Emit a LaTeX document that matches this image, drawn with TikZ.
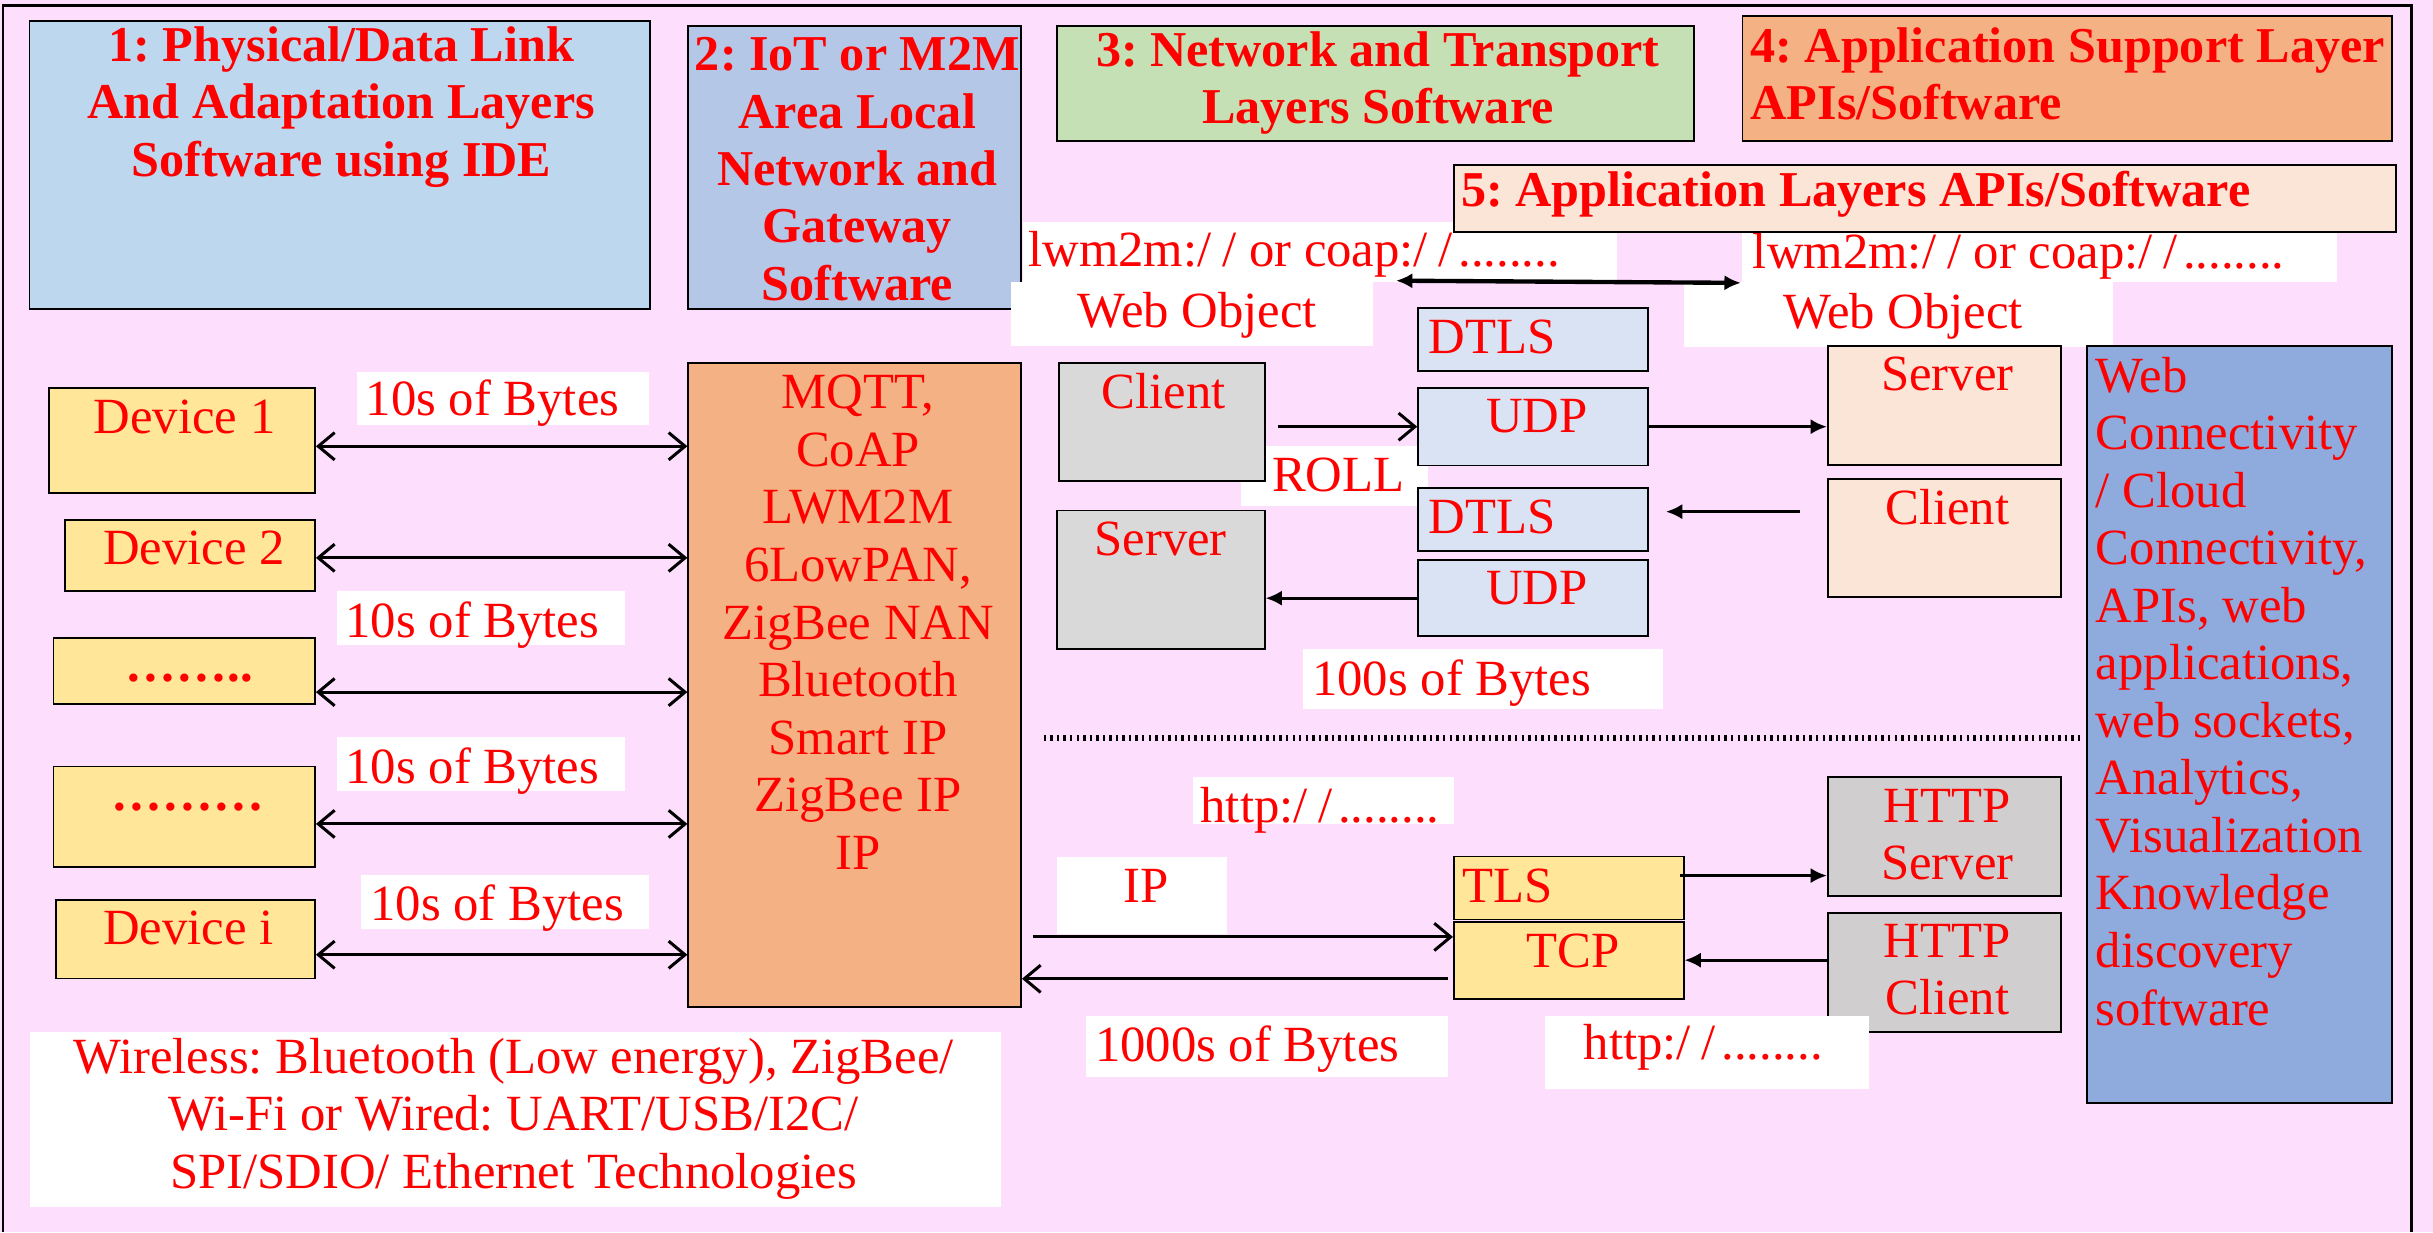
\documentclass[tikz,border=0pt]{standalone}
\usepackage{fontspec}
\setmainfont{Liberation Serif}
\frenchspacing
\usetikzlibrary{arrows.meta}
\definecolor{bgpink}{RGB}{253,222,253}
\definecolor{lblue}{RGB}{189,215,238}
\definecolor{mblue}{RGB}{180,199,231}
\definecolor{lgreen}{RGB}{197,224,180}
\definecolor{lorange}{RGB}{244,177,131}
\definecolor{lpeach}{RGB}{251,229,214}
\definecolor{lyellow}{RGB}{255,230,153}
\definecolor{pblue}{RGB}{218,227,243}
\definecolor{lgray}{RGB}{217,217,217}
\definecolor{mgray}{RGB}{208,206,206}
\definecolor{dblue}{RGB}{143,170,220}
\begin{document}
\begin{tikzpicture}[x=1cm,y=-1cm,
    box/.style={draw,line width=0.35pt,inner sep=0pt},
    blank/.style={fill=white,inner sep=0pt},
    txt/.style={text=red,inner sep=0pt,font=\fontsize{9.3}{10.55}\selectfont},
    hdr/.style={text=red,inner sep=0pt,font=\fontsize{9.2}{10.5}\selectfont\bfseries},
    conn/.style={line width=0.55pt},
    solidtip/.style={>={Latex[length=3pt,width=2.8pt]}},
    >={Straight Barb[length=3pt,width=5pt]}]
    \fill[bgpink] (0,0) rectangle (15.68,7.94);
    \useasboundingbox (0,0) rectangle (15.68,7.94);
    \draw[line width=0.5pt] (0.02,7.94) -- (0.02,0.035) -- (15.54,0.035) -- (15.54,7.94);% outer frame
    % layer headers
    \node[box,fill=lblue,minimum width=4cm,minimum height=1.857cm] (hdra) at (2.19,1.062) {};
    \node[hdr,align=center] (hdratxt) at (2.20,0.69) {1: Physical/Data Link\\And Adaptation Layers\\Software using IDE};
    \node[box,fill=mblue,minimum width=2.144cm,minimum height=1.825cm] (hdrb) at (5.508,1.0775) {};
    \node[hdr,align=center] (hdrbtxt) at (5.525,1.09) {2: IoT or M2M\\Area Local\\Network and\\Gateway\\Software};
    \node[box,fill=lgreen,minimum width=4.11cm,minimum height=0.739cm] (hdrc) at (8.865,0.5375) {};
    \node[hdr,align=center] (hdrctxt) at (8.88,0.535) {3: Network and Transport\\Layers Software};
    \node[box,fill=lorange,minimum width=4.186cm,minimum height=0.804cm] (hdrd) at (13.323,0.505) {};
    \node[hdr,align=left,anchor=west] (hdrdtxt) at (11.275,0.475) {4: Application Support Layer\\APIs/Software};
    % web object labels
    \node[blank,minimum width=3.83cm,minimum height=0.386cm] (lwabg) at (8.505,1.623) {};
    \node[txt,anchor=west] (lwatxt) at (6.62,1.64) {lwm2m:/\kern2pt/ or coap:/\kern2pt/\kern1pt........};
    \node[blank,minimum width=2.335cm,minimum height=0.414cm] (woabg) at (7.6825,2.023) {};
    \node[txt] (woatxt) at (7.716,2.03) {Web Object};
    \node[blank,minimum width=3.834cm,minimum height=0.319cm] (lwbbg) at (13.143,1.6565) {};
    \node[txt,anchor=west] (lwbtxt) at (11.29,1.65) {lwm2m:/\kern2pt/ or coap:/\kern2pt/\kern1pt........};
    \node[blank,minimum width=2.77cm,minimum height=0.419cm] (wobbg) at (12.235,2.0255) {};
    \node[txt] (wobtxt) at (12.265,2.04) {Web Object};
    \draw[conn,line width=0.8pt,solidtip,<->] ([xshift=1.4mm]woabg.north east) -- (lwbbg.south west);
    \node[box,fill=lpeach,minimum width=6.07cm,minimum height=0.434cm] (hdre) at (12.405,1.28) {};
    \node[hdr,anchor=west] (hdretxt) at (9.41,1.255) {5: Application Layers APIs/Software};
    % devices
    \node[box,fill=lyellow,minimum width=1.715cm,minimum height=0.68cm] (dev1) at (1.1725,2.84) {};
    \node[txt] (dev1txt) at (1.19,2.69) {Device 1};
    \node[box,fill=lyellow,minimum width=1.61cm,minimum height=0.46cm] (dev2) at (1.225,3.58) {};
    \node[txt] (dev2txt) at (1.25,3.53) {Device 2};
    \node[box,fill=lyellow,minimum width=1.685cm,minimum height=0.425cm] (devc) at (1.1875,4.3225) {};
    \node[txt,font=\fontsize{9.3}{10.55}\selectfont\bfseries] (devctxt) at (1.22,4.37) {……..};
    \node[box,fill=lyellow,minimum width=1.685cm,minimum height=0.65cm] (devd) at (1.1875,5.265) {};
    \node[txt,font=\fontsize{9.3}{10.55}\selectfont\bfseries] (devdtxt) at (1.21,5.20) {………};
    \node[box,fill=lyellow,minimum width=1.67cm,minimum height=0.506cm] (devi) at (1.195,6.053) {};
    \node[txt] (devitxt) at (1.215,5.98) {Device i};
    % gateway
    \node[box,fill=lorange,minimum width=2.144cm,minimum height=4.15cm] (mqtt) at (5.508,4.415) {};
    \node[txt,align=center] (mqtttxt) at (5.53,4.01) {MQTT,\\CoAP\\LWM2M\\6LowPAN,\\ZigBee NAN\\Bluetooth\\Smart IP\\ZigBee IP\\IP};
    \node[blank,minimum width=1.88cm,minimum height=0.344cm] (bytabg) at (3.24,2.568) {};
    \node[txt,anchor=west] (bytatxt) at (2.35,2.60) {10s of Bytes};
    \node[blank,minimum width=1.86cm,minimum height=0.345cm] (bytbbg) at (3.10,3.9825) {};
    \node[txt,anchor=west] (bytbtxt) at (2.22,4.03) {10s of Bytes};
    \node[blank,minimum width=1.86cm,minimum height=0.35cm] (bytcbg) at (3.10,4.925) {};
    \node[txt,anchor=west] (bytctxt) at (2.22,4.97) {10s of Bytes};
    \node[blank,minimum width=1.854cm,minimum height=0.345cm] (bytdbg) at (3.253,5.8125) {};
    \node[txt,anchor=west] (bytdtxt) at (2.38,5.85) {10s of Bytes};
    \foreach \d/\s in {dev1/-0.36mm,dev2/-0.15mm,devc/-1.38mm,devd/-0.45mm,devi/-1.0mm}{% one link per device
      \coordinate (lnk) at ([yshift=\s]\d.east);
      \draw[conn,<->] (lnk) -- (lnk -| mqtt.west);}
    % UDP side
    \node[blank,minimum width=1.20cm,minimum height=0.385cm] (rollbg) at (8.60,3.0675) {};
    \node[txt] (rolltxt) at (8.625,3.06) {ROLL};
    \node[box,fill=lgray,minimum width=1.325cm,minimum height=0.76cm] (clia) at (7.4875,2.72) {};
    \node[txt] (cliatxt) at (7.50,2.52) {Client};
    \node[box,fill=lgray,minimum width=1.34cm,minimum height=0.89cm] (srva) at (7.48,3.735) {};
    \node[txt] (srvatxt) at (7.48,3.475) {Server};
    \node[box,fill=pblue,minimum width=1.48cm,minimum height=0.403cm] (dtlsa) at (9.88,2.1885) {};
    \node[txt,anchor=west] (dtlsatxt) at (9.20,2.17) {DTLS};
    \node[box,fill=pblue,minimum width=1.48cm,minimum height=0.50cm] (udpa) at (9.88,2.75) {};
    \node[txt] (udpatxt) at (9.905,2.685) {UDP};
    \node[box,fill=pblue,minimum width=1.48cm,minimum height=0.405cm] (dtlsb) at (9.88,3.3475) {};
    \node[txt,anchor=west] (dtlsbtxt) at (9.20,3.33) {DTLS};
    \node[box,fill=pblue,minimum width=1.48cm,minimum height=0.49cm] (udpb) at (9.88,3.855) {};
    \node[txt] (udpbtxt) at (9.905,3.79) {UDP};
    \node[box,fill=lpeach,minimum width=1.5cm,minimum height=0.769cm] (srvb) at (12.53,2.6125) {};
    \node[txt] (srvbtxt) at (12.55,2.41) {Server};
    \node[box,fill=lpeach,minimum width=1.5cm,minimum height=0.761cm] (clib) at (12.53,3.4685) {};
    \node[txt] (clibtxt) at (12.55,3.27) {Client};
    \node[blank,minimum width=2.32cm,minimum height=0.39cm] (bytebg) at (9.56,4.375) {};
    \node[txt,anchor=west] (bytetxt) at (8.45,4.40) {100s of Bytes};
    \draw[conn,->,shorten <=0.8mm] (clia.east |- udpa.west) -- (udpa.west);
    \draw[conn,solidtip,->] (udpa.east) -- (udpa.east -| srvb.west);
    \coordinate (dtlsin) at ([xshift=1.1mm,yshift=0.5mm]dtlsb.east);
    \draw[conn,solidtip,->,shorten <=1.75mm] (dtlsin -| clib.west) -- (dtlsin);
    \draw[conn,solidtip,->] (udpb.west) -- (udpb.west -| srva.east);
    % cloud side
    \node[box,fill=dblue,minimum width=1.966cm,minimum height=4.882cm] (web) at (14.433,4.669) {};
    \node[txt,align=left,anchor=west] (webtxt) at (13.50,4.455) {Web\\Connectivity\\/ Cloud\\Connectivity,\\APIs, web\\applications,\\web sockets,\\Analytics,\\Visualization\\Knowledge\\discovery\\software};
    \draw[line width=1.1pt,dash pattern=on 0.45pt off 0.75pt] (6.727,4.754) -- (13.426,4.754);
    % TCP side
    \node[blank,minimum width=1.68cm,minimum height=0.30cm] (httpabg) at (8.53,5.16) {};
    \node[txt,anchor=west] (httpatxt) at (7.73,5.22) {http:/\kern2pt/\kern1pt........};
    \node[blank,minimum width=1.095cm,minimum height=0.50cm] (ipbg) at (7.3575,5.77) {};
    \node[txt] (iptxt) at (7.385,5.71) {IP};
    \node[box,fill=lyellow,minimum width=1.48cm,minimum height=0.406cm] (tls) at (10.11,5.723) {};
    \node[txt,anchor=west] (tlstxt) at (9.42,5.71) {TLS};
    \node[box,fill=lyellow,minimum width=1.48cm,minimum height=0.496cm] (tcp) at (10.11,6.188) {};
    \node[txt] (tcptxt) at (10.14,6.13) {TCP};
    \node[box,fill=mgray,minimum width=1.5cm,minimum height=0.768cm] (hsrv) at (12.53,5.391) {};
    \node[txt,align=center] (hsrvtxt) at (12.55,5.38) {HTTP\\Server};
    \node[box,fill=mgray,minimum width=1.5cm,minimum height=0.765cm] (hcli) at (12.53,6.2675) {};
    \node[txt,align=center] (hclitxt) at (12.55,6.25) {HTTP\\Client};
    \node[blank,minimum width=2.33cm,minimum height=0.39cm] (bytfbg) at (8.165,6.745) {};
    \node[txt,anchor=west] (bytftxt) at (7.05,6.76) {1000s of Bytes};
    \node[blank,minimum width=2.086cm,minimum height=0.47cm] (httpbbg) at (11.003,6.785) {};
    \node[txt,anchor=west] (httpbtxt) at (10.20,6.75) {http:/\kern2pt/\kern1pt........};
    \coordinate (tlsout) at ([xshift=-0.3mm,yshift=0.8mm]tls.east);
    \draw[conn,solidtip,->] (tlsout) -- (tlsout -| hsrv.west);
    \coordinate (tcpin) at ([yshift=1.5mm]tcp.west);
    \draw[conn,->,shorten <=0.7mm] (tcpin -| mqtt.east) -- (tcpin);
    \coordinate (tcpout) at ([xshift=-0.3mm,yshift=-1.2mm]tcp.west);
    \draw[conn,->] (tcpout) -- (tcpout -| mqtt.east);
    \draw[conn,solidtip,->] (hcli.west |- tcp.east) -- (tcp.east);
    % link technologies
    \node[blank,minimum width=6.256cm,minimum height=1.127cm] (techbg) at (3.322,7.2135) {};
    \node[txt,align=center] (techtxt) at (3.31,7.21) {Wireless: Bluetooth (Low energy), ZigBee/\\Wi-Fi or Wired: UART/USB/I2C/\\SPI/SDIO/ Ethernet Technologies};
\end{tikzpicture}
\end{document}
